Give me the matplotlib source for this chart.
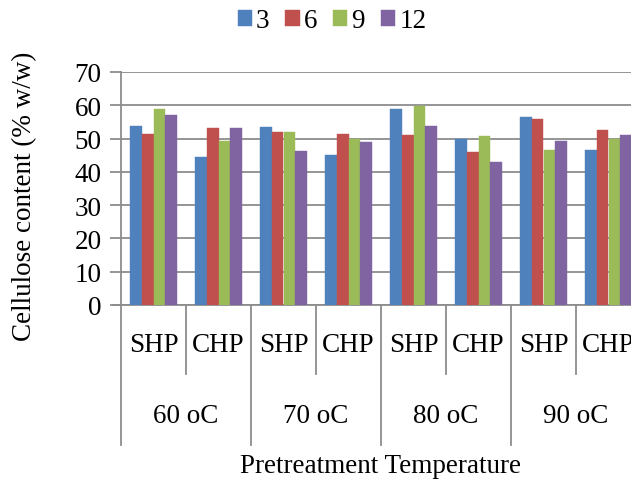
import matplotlib
matplotlib.use("Agg")
import matplotlib.pyplot as plt
import matplotlib.transforms as mtransforms
import numpy as np

plt.rcParams['font.family'] = ['Liberation Serif', 'DejaVu Serif']

# data
temps = ["60 oC", "70 oC", "80 oC", "90 oC"]
methods = ["SHP", "CHP"]
series_names = ["3", "6", "9", "12"]
s3 = [53.9, 44.5, 53.4, 45.1, 58.8, 50.0, 56.5, 46.5]
s6 = [51.5, 53.1, 52.1, 51.5, 51.2, 46.1, 55.9, 52.6]
s9 = [58.9, 49.3, 52.1, 50.0, 59.7, 50.9, 46.7, 49.8]
s12 = [57.2, 53.2, 46.4, 48.9, 53.7, 43.1, 49.3, 51.0]
colors = ["#4F81BD", "#C0504D", "#9BBB59", "#8064A2"]

grid_c = "#8C8C8C"
fs = 19.5

W, H = 631, 481
fig = plt.figure(figsize=(W / 100, H / 100), dpi=100)
x0, x1, y0, y1 = 121, 641, 306, 73
ax = fig.add_axes([x0 / W, (H - y0) / H, (x1 - x0) / W, (y0 - y1) / H])

n = len(temps) * len(methods)
x = np.arange(n)
bw = 0.18
for k, (vals, c, name) in enumerate(zip([s3, s6, s9, s12], colors, series_names)):
    ax.bar(x + (k - 1.5) * bw, vals, bw, color=c, label=name, zorder=3,
           edgecolor=c, linewidth=0.3)

ax.set_xlim(-0.5, n - 0.5)
ax.set_ylim(0, 70)
ax.set_yticks(range(0, 71, 10))
ax.yaxis.grid(True, color=grid_c, linewidth=1.3, zorder=0)
ax.set_axisbelow(True)
ax.tick_params(axis='y', labelsize=fs, length=8, width=1.3, color=grid_c, pad=6)
ax.set_xticks([])
for s in ["top", "right", "bottom"]:
    ax.spines[s].set_visible(False)
ax.spines["left"].set_color(grid_c)
ax.spines["left"].set_linewidth(1.3)

# multi-level category axis
tr = mtransforms.blended_transform_factory(ax.transData, ax.transAxes)
ph = y0 - y1
def ay(py):
    return (y0 - py) / ph

ax.plot([-0.5 - 8 / 65, n - 0.5], [0, 0], transform=tr, color=grid_c,
        lw=1.3, clip_on=False)
for i in range(n + 1):
    xs = i - 0.5
    bottom = 446 if i % 2 == 0 else 375
    ax.plot([xs, xs], [0, ay(bottom)], transform=tr, color=grid_c, lw=1.3,
            clip_on=False)
for i in range(n):
    ax.text(i, ay(346), methods[i % 2], transform=tr, ha='center', va='center',
            fontsize=fs)
for j, t in enumerate(temps):
    ax.text(2 * j + 0.5, ay(417), t, transform=tr, ha='center', va='center',
            fontsize=fs)

fig.text(380 / W, 1 - 467 / H, "Pretreatment Temperature", ha='center',
         va='center', fontsize=fs)
fig.text(25 / W, 1 - 196 / H, "Cellulose content (% w/w)", rotation=90,
         ha='center', va='center', fontsize=fs)

fig.legend(loc='center', bbox_to_anchor=(332 / W, 1 - 22 / H), ncol=4,
           frameon=False, fontsize=fs, handlelength=0.52, handleheight=0.52,
           handletextpad=0.15, columnspacing=0.6)

fig.savefig("out.png", dpi=100)
